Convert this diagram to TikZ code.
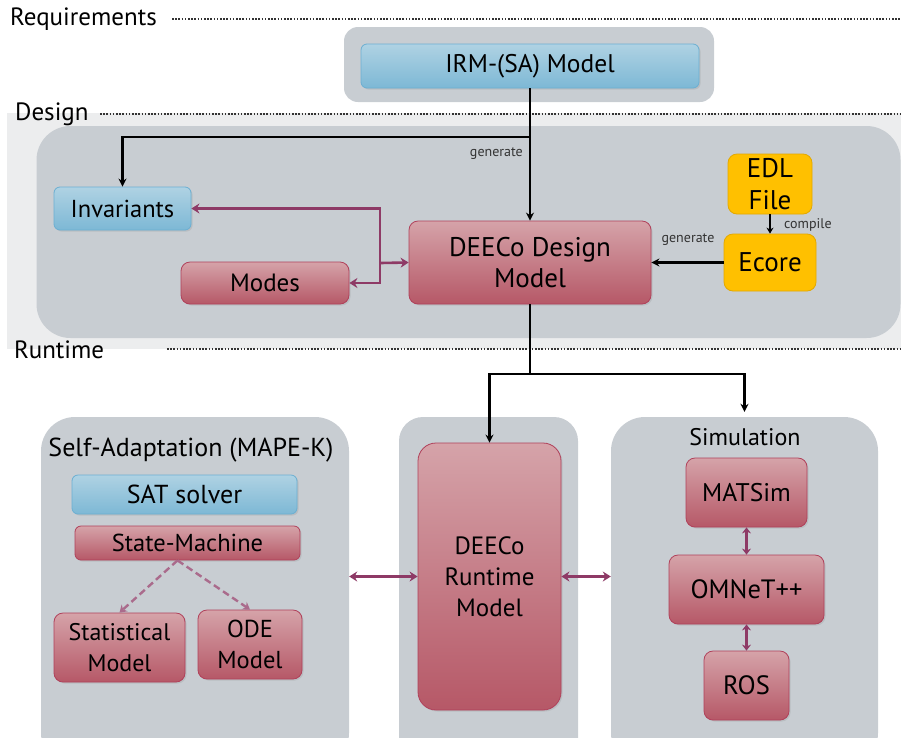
\documentclass[tikz,border=0pt]{standalone}
\usepackage{fontspec}
\setmainfont{PT Sans}
\usetikzlibrary{arrows.meta,shadows}
\definecolor{cont}{HTML}{C8CDD2}
\definecolor{band}{HTML}{ECEDEE}
\definecolor{bluetop}{HTML}{AFD2E3}
\definecolor{bluebot}{HTML}{7DB8D5}
\definecolor{blueline}{HTML}{6BAFD2}
\definecolor{redtop}{HTML}{D5A3A9}
\definecolor{redbot}{HTML}{B65867}
\definecolor{redline}{HTML}{B0405A}
\definecolor{yel}{HTML}{FFC000}
\definecolor{yelline}{HTML}{E3A800}
\definecolor{mag}{HTML}{8E3A66}
\definecolor{dotc}{HTML}{333333}
\newcommand{\fs}[2]{\fontsize{#1}{#2}\selectfont}
\tikzset{
  container/.style={fill=cont, rounded corners=#1, inner sep=0pt},
  container/.default=14pt,
  bluebox/.style={draw=blueline, line width=0.8pt, top color=bluetop, bottom color=bluebot, rounded corners=6pt, inner sep=0pt, align=center, font=\fs{24.5}{27},
    drop shadow={opacity=0.2, shadow xshift=1.5pt, shadow yshift=-1.5pt}},
  redbox/.style={draw=redline, line width=0.8pt, top color=redtop, bottom color=redbot, rounded corners=9pt, inner sep=0pt, align=center, font=\fs{25}{31},
    drop shadow={opacity=0.2, shadow xshift=1.5pt, shadow yshift=-1.5pt}},
  yelbox/.style={draw=yelline, line width=0.8pt, fill=yel, rounded corners=9pt, inner sep=0pt, align=center, font=\fs{27}{32}},
  blk/.style={draw=black, line width=2.5pt, -{Stealth[length=8pt,width=8pt]}},
  magarrow/.style={draw=mag, line width=2.6pt, {Stealth[length=8pt,width=10pt]}-{Stealth[length=8pt,width=10pt]}},
  magsmall/.style={draw=mag, line width=2.4pt, {Stealth[length=6pt,width=9pt]}-{Stealth[length=6pt,width=9pt]}},
  magone/.style={draw=mag, line width=2.6pt, -{Stealth[length=8pt,width=10pt]}},
  magdash/.style={draw=mag!75, line width=2.4pt, dash pattern=on 7pt off 4pt, -{Stealth[length=7pt,width=9pt]}},
  dotline/.style={draw=dotc, line width=2pt, dash pattern=on 1.6pt off 1.6pt},
  layerlbl/.style={anchor=west, inner sep=0pt, font=\fs{25}{27}},
  small/.style={inner sep=0pt, font=\fs{14}{15}, text=black!80},
  title/.style={inner sep=0pt, font=\fs{24}{26}},
}
\begin{document}
\begin{tikzpicture}[x=1pt,y=-1pt]
\useasboundingbox (0,0) rectangle (901,737);
\begin{scope}
\clip (0,0) rectangle (901,737);
% design band
\fill[band] (7,113) rectangle (901,349);
% containers
\node[container=14pt, minimum width=370pt, minimum height=75pt] (reqbox) at (529,64.5) {};
\node[container=34pt, minimum width=864pt, minimum height=212pt] (desbox) at (468.5,232) {};
\node[container=34pt, minimum width=308pt, minimum height=350pt] (sabox) at (195,592) {};
\node[container=24pt, minimum width=179pt, minimum height=350pt] (midbox) at (488.5,592) {};
\node[container=34pt, minimum width=267pt, minimum height=350pt] (simbox) at (744.5,592) {};
\end{scope}
% layer labels and dotted separators
\node[layerlbl] (reqlbl) at (10,19) {Requirements};
\node[layerlbl] (deslbl) at (15,114) {Design};
\node[layerlbl] (rtlbl) at (14,350) {Runtime};
\draw[dotline] (172,19) -- (901,19);
\draw[dotline] (100,114) -- (901,114);
\draw[dotline] (167,349) -- (901,349);
% requirements
\node[bluebox, minimum width=338pt, minimum height=44pt, font=\fs{25.5}{27}] (irm) at (530,66) {IRM-(SA) Model};
% design
\node[bluebox, minimum width=137pt, minimum height=43pt] (inv) at (122.5,208.5) {Invariants};
\node[redbox, minimum width=168pt, minimum height=42pt] (modes) at (265,283) {Modes};
\node[redbox, minimum width=242pt, minimum height=83pt, font=\fs{27}{31}] (ddm) at (530,262.5) {DEECo Design\\Model};
\node[yelbox, minimum width=84pt, minimum height=60pt] (edl) at (770,184) {EDL\\File};
\node[yelbox, minimum width=92pt, minimum height=57pt] (ecore) at (770,262.5) {Ecore};
% runtime
\node[title, font=\fs{26}{28}] (satitle) at (191,450) {Self-Adaptation (MAPE-K)};
\node[bluebox, minimum width=225pt, minimum height=39pt, font=\fs{26}{28}] (sat) at (184.5,494.5) {SAT solver};
\node[redbox, minimum width=225pt, minimum height=34pt, rounded corners=6pt, font=\fs{24.5}{26}] (sm) at (187.5,543) {State-Machine};
\node[redbox, minimum width=131pt, minimum height=69pt, font=\fs{24}{31}] (stat) at (119.5,647.5) {Statistical\\Model};
\node[redbox, minimum width=104pt, minimum height=69pt, font=\fs{24.5}{31}] (ode) at (250,644.5) {ODE\\Model};
\node[redbox, minimum width=143pt, minimum height=267pt, rounded corners=18pt] (drm) at (489.5,576.5) {DEECo\\Runtime\\Model};
\node[title] (simtitle) at (745,437) {Simulation};
\node[redbox, minimum width=121pt, minimum height=69pt, font=\fs{25.5}{28}] (mat) at (746.5,492.5) {MATSim};
\node[redbox, minimum width=155pt, minimum height=69pt, font=\fs{26.5}{28}] (omn) at (746.5,589.5) {OMNeT++};
\node[redbox, minimum width=85pt, minimum height=69pt, font=\fs{26.5}{28}] (ros) at (746.5,685.5) {ROS};
% black connectors
\coordinate (j1) at (530,137);
\draw[blk] (irm.south) -- (ddm.north);
\draw[blk] (j1) -| (inv.north);
\node[small, anchor=east] (gen1) at (523,154) {generate};
\draw[blk] (ecore.west) -- (ddm.east);
\node[small] (gen2) at (688,240) {generate};
\draw[blk, -{Stealth[length=6pt,width=7pt]}] (edl.south) -- (ecore.north);
\node[small, anchor=west] (comp) at (784,225) {compile};
\coordinate (rj) at (530,374);
\draw[line width=2.5pt] (ddm.south) -- (rj);
\draw[blk] (rj) -| (drm.north);
\draw[blk, shorten >=5pt] (rj) -| (simbox.north);
% magenta connectors
\coordinate (mj) at (380,263);
\draw[magone] (mj) -- (ddm.west);
\draw[magone] (mj) |- (inv.east);
\draw[magone] (mj) |- (modes.east);
\draw[magarrow] (sabox.east |- drm.west) -- (drm.west);
\draw[magarrow] (drm.east) -- (simbox.west |- drm.east);
\draw[magsmall] (mat.south) -- (omn.north);
\draw[magsmall] (omn.south) -- (ros.north);
\coordinate (sm0) at ([xshift=-10pt]sm.south);
\draw[magdash] (sm0) -- (stat.north);
\draw[magdash] (sm0) -- (ode.north);
\end{tikzpicture}
\end{document}
